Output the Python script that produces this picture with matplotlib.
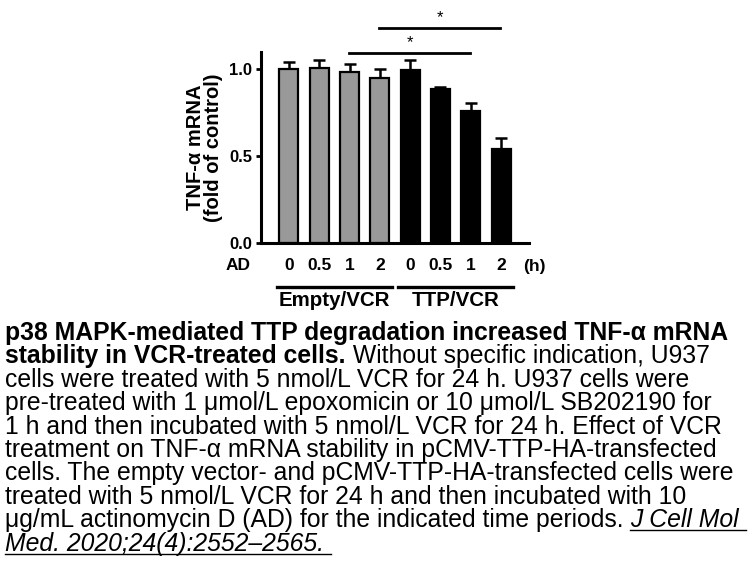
import matplotlib
matplotlib.use("Agg")
import matplotlib.pyplot as plt
from matplotlib.transforms import blended_transform_factory
from matplotlib.lines import Line2D

plt.rcParams['font.family'] = ['Liberation Sans', 'DejaVu Sans']

# ---- data ----
time_labels = ["0", "0.5", "1", "2", "0", "0.5", "1", "2"]
groups = ["Empty/VCR", "TTP/VCR"]
values = [1.00, 1.01, 0.985, 0.952, 0.996, 0.889, 0.759, 0.539]
errors = [0.044, 0.044, 0.047, 0.048, 0.056, 0.011, 0.046, 0.067]
bar_colors = ["#999999"] * 4 + ["#000000"] * 4
sig_pairs = [(2, 6), (3, 7)]
sig_labels = ["*", "*"]
sig_heights = [1.092, 1.236]
yticks = [0.0, 0.5, 1.0]

caption_bold1 = "p38 MAPK-mediated TTP degradation increased TNF-α mRNA"
caption_bold2 = "stability in VCR-treated cells."
caption_rest2 = " Without specific indication, U937"
caption_lines = [
    "cells were treated with 5 nmol/L VCR for 24 h. U937 cells were",
    "pre-treated with 1 μmol/L epoxomicin or 10 μmol/L SB202190 for",
    "1 h and then incubated with 5 nmol/L VCR for 24 h. Effect of VCR",
    "treatment on TNF-α mRNA stability in pCMV-TTP-HA-transfected",
    "cells. The empty vector- and pCMV-TTP-HA-transfected cells were",
    "treated with 5 nmol/L VCR for 24 h and then incubated with 10",
]
caption_last_plain = "μg/mL actinomycin D (AD) for the indicated time periods. "
caption_cite1 = "J Cell Mol "
caption_cite2 = "Med. 2020;24(4):2552–2565. "

W, H = 756, 567
fig = plt.figure(figsize=(W / 100, H / 100), dpi=100)

def fx(px):
    return px / W

def fy(py):
    return 1 - py / H

ax = fig.add_axes([fx(261), fy(243), fx(529) - fx(261), fy(52) - fy(243)])
x = list(range(len(values)))
ax.bar(x, values, width=0.62, color=bar_colors, edgecolor="black", linewidth=1.6, zorder=2)
ax.errorbar(x, values, yerr=[[0] * len(errors), errors], fmt="none", ecolor="black",
            elinewidth=1.8, capsize=4, capthick=1.8, zorder=1)
ax.set_xlim(-0.92, 7.92)
ax.set_ylim(0, 1.1)
ax.set_yticks(yticks)
ax.set_yticklabels([f"{t:.1f}" for t in yticks], fontsize=12, fontweight="bold")
ax.set_xticks([])
for s in ["top", "right"]:
    ax.spines[s].set_visible(False)
for s in ["left", "bottom"]:
    ax.spines[s].set_linewidth(2.2)
ax.tick_params(axis="y", length=3.5, width=2, pad=3)
ax.set_ylabel("TNF-α mRNA\n(fold of control)", fontsize=14.5, fontweight="bold", labelpad=4,
              linespacing=0.95)

# significance bars
for (a, b), lab, yl in zip(sig_pairs, sig_labels, sig_heights):
    ax.plot([a - 0.03, b - 0.03], [yl, yl], color="black", lw=2.0, clip_on=False)
    ax.text((a + b) / 2, yl + 0.02, lab, ha="center", va="bottom", fontsize=12, clip_on=False)

# x labels under bars
tr = blended_transform_factory(ax.transData, fig.transFigure)
for xi, lab in zip(x, time_labels):
    ax.text(xi, fy(266), lab, transform=tr, ha="center", va="center", fontsize=12.5, fontweight="bold")
fig.text(fx(238), fy(266), "AD", ha="center", va="center", fontsize=12.5, fontweight="bold")
fig.text(fx(534), fy(266), "(h)", ha="center", va="center", fontsize=12.5, fontweight="bold")

# group lines & labels
for gi, g in enumerate(groups):
    a, b = gi * 4, gi * 4 + 3
    ax.add_line(Line2D([a - 0.4, b + 0.4], [fy(287), fy(287)], transform=tr, color="black",
                       lw=2.4, clip_on=False))
    ax.text((a + b) / 2, fy(301), g, transform=tr, ha="center", va="center", fontsize=14.8,
            fontweight="bold")

# caption
fig.canvas.draw()
r = fig.canvas.get_renderer()
lh = 23.4
y0 = 333
cs = 17.8
fig.text(fx(5), fy(y0), caption_bold1, fontsize=cs, fontweight="bold", va="center", ha="left")
t = fig.text(fx(5), fy(y0 + lh), caption_bold2, fontsize=cs, fontweight="bold", va="center", ha="left")
bb = t.get_window_extent(r)
fig.text(bb.x1 / W, fy(y0 + lh), caption_rest2, fontsize=cs, va="center", ha="left")
for i, line in enumerate(caption_lines):
    fig.text(fx(5), fy(y0 + lh * (2 + i)), line, fontsize=cs, va="center", ha="left")
yl = y0 + lh * 8
t = fig.text(fx(5), fy(yl), caption_last_plain, fontsize=cs, va="center", ha="left")
bb = t.get_window_extent(r)
t2 = fig.text(bb.x1 / W, fy(yl), caption_cite1, fontsize=cs, va="center", ha="left", style="italic")
bb2 = t2.get_window_extent(r)
fig.add_artist(Line2D([bb2.x0 / W, bb2.x1 / W], [(bb2.y0 + 2) / H] * 2, color="black", lw=1.0))
t3 = fig.text(fx(5), fy(yl + lh), caption_cite2, fontsize=cs, va="center", ha="left", style="italic")
bb3 = t3.get_window_extent(r)
fig.add_artist(Line2D([bb3.x0 / W, bb3.x1 / W], [(bb3.y0 + 2) / H] * 2, color="black", lw=1.0))

fig.savefig("out.png", dpi=100)
